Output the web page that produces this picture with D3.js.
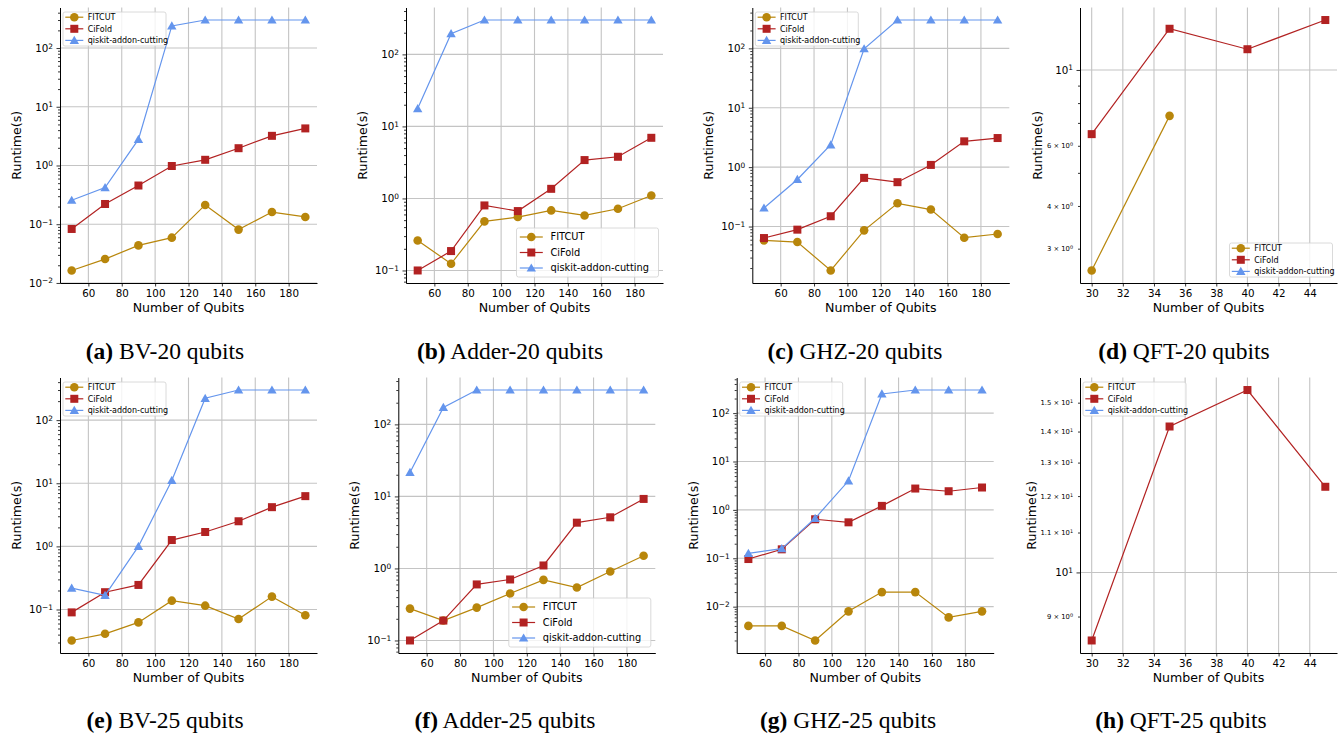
<!DOCTYPE html>
<html>
<head>
<meta charset="utf-8">
<script src="https://cdn.jsdelivr.net/npm/d3@7"></script>
<style>
  body { margin: 0; background: #fff; }
  svg text { font-family: "DejaVu Sans", sans-serif; fill: #000; }
  .caption { font-family: "Liberation Serif", serif; }
</style>
</head>
<body>
<svg id="chart" width="1338" height="735"></svg>
<script>
// x values and tick labels
const qubits = [50, 70, 90, 110, 130, 150, 170, 190];
const qftQubits = [30, 35, 40, 45];
const qubitTicks = [60, 80, 100, 120, 140, 160, 180];
const qftTicks = [30, 32, 34, 36, 38, 40, 42, 44];
const seriesNames = ["FITCUT", "CiFold", "qiskit-addon-cutting"];

// runtimes (s), 20 qubits per device
const bv20Fitcut = [0.0163, 0.0255, 0.0436, 0.059, 0.213, 0.081, 0.161, 0.133];
const bv20Cifold = [0.083, 0.221, 0.456, 0.98, 1.25, 1.97, 3.2, 4.28];
const bv20Qiskit = [0.256, 0.42, 2.78, 238, 300, 300, 300, 300];

const adder20Fitcut = [0.261, 0.124, 0.48, 0.552, 0.682, 0.581, 0.72, 1.10];
const adder20Cifold = [0.1, 0.186, 0.80, 0.668, 1.36, 3.41, 3.79, 6.95];
const adder20Qiskit = [17.7, 194, 300, 300, 300, 300, 300, 300];

const ghz20Fitcut = [0.0585, 0.0548, 0.0182, 0.0862, 0.246, 0.193, 0.0649, 0.0748];
const ghz20Cifold = [0.064, 0.0886, 0.149, 0.66, 0.558, 1.09, 2.72, 3.09];
const ghz20Qiskit = [0.205, 0.62, 2.38, 98.5, 300, 300, 300, 300];

const qft20Fitcut = [2.59, 7.34];
const qft20Cifold = [6.49, 13.2, 11.5, 14.0];
const qft20Qiskit = [];

// runtimes (s), 25 qubits per device
const bv25Fitcut = [0.0323, 0.0412, 0.0625, 0.138, 0.115, 0.0706, 0.16, 0.081];
const bv25Cifold = [0.090, 0.188, 0.245, 1.26, 1.69, 2.5, 4.18, 6.25];
const bv25Qiskit = [0.218, 0.168, 1.0, 11.1, 222, 300, 300, 300];

const adder25Fitcut = [0.277, 0.189, 0.286, 0.449, 0.694, 0.543, 0.908, 1.50];
const adder25Cifold = [0.1, 0.189, 0.60, 0.703, 1.10, 4.32, 5.13, 9.23];
const adder25Qiskit = [21.5, 172, 300, 300, 300, 300, 300, 300];

const ghz25Fitcut = [0.004, 0.004, 0.002, 0.008, 0.02, 0.02, 0.006, 0.008];
const ghz25Cifold = [0.0964, 0.153, 0.64, 0.553, 1.21, 2.76, 2.43, 2.9];
const ghz25Qiskit = [0.126, 0.158, 0.67, 3.99, 249, 300, 300, 300];

const qft25Fitcut = [];
const qft25Cifold = [8.50, 14.17, 15.46, 12.27];
const qft25Qiskit = [];

// labelled minor ticks on the QFT panels
const qft20MinorLabels = [3, 4, 6];
const qft25MinorTicks = [9, 11, 12, 13, 14, 15];

const captions = [
  ["(a)", " BV-20 qubits"], ["(b)", " Adder-20 qubits"], ["(c)", " GHZ-20 qubits"], ["(d)", " QFT-20 qubits"],
  ["(e)", " BV-25 qubits"], ["(f)", " Adder-25 qubits"], ["(g)", " GHZ-25 qubits"], ["(h)", " QFT-25 qubits"]
];

const colors = ["#b8860b", "#b22222", "#6495ed"];
const shapes = ["circle", "square", "triangle"];

const PW = 257, PH = 275.5;
const legendStyles = {
  small: {font: 8, w: 103, h: 34, pad: 5.2, gap: 11.6, l0: 2.3, l1: 20.3, tx: 24.7},
  large: {font: 9.8, w: 142, h: 49, pad: 9, gap: 15.5, l0: 3.3, l1: 26.3, tx: 34}
};

const panels = [
  {x: qubits, series: [bv20Fitcut, bv20Cifold, bv20Qiskit], xTicks: qubitTicks, left: 60, top: 7.5, legend: "ul", lstyle: "small", ylab: -43, cx: 165, cy: 359},
  {x: qubits, series: [adder20Fitcut, adder20Cifold, adder20Qiskit], xTicks: qubitTicks, left: 406, top: 7.5, legend: "lr", lstyle: "large", ylab: -43, cx: 510, cy: 359},
  {x: qubits, series: [ghz20Fitcut, ghz20Cifold, ghz20Qiskit], xTicks: qubitTicks, left: 752.3, top: 7.5, legend: "ul", lstyle: "small", ylab: -44, cx: 855, cy: 359},
  {x: qftQubits, series: [qft20Fitcut, qft20Cifold, qft20Qiskit], xTicks: qftTicks, left: 1080, top: 7.5, legend: "lr", lstyle: "small", ylab: -42, cx: 1184, cy: 359, minorLabels: qft20MinorLabels},
  {x: qubits, series: [bv25Fitcut, bv25Cifold, bv25Qiskit], xTicks: qubitTicks, left: 60, top: 377.5, legend: "ul", lstyle: "small", ylab: -43, cx: 165, cy: 728},
  {x: qubits, series: [adder25Fitcut, adder25Cifold, adder25Qiskit], xTicks: qubitTicks, left: 398.3, top: 377.5, legend: "lr", lstyle: "large", ylab: -44, cx: 505, cy: 728},
  {x: qubits, series: [ghz25Fitcut, ghz25Cifold, ghz25Qiskit], xTicks: qubitTicks, left: 736.7, top: 377.5, legend: "ul", lstyle: "small", ylab: -43.4, cx: 848, cy: 728},
  {x: qftQubits, series: [qft25Fitcut, qft25Cifold, qft25Qiskit], xTicks: qftTicks, left: 1080, top: 377.5, legend: "ul", lstyle: "small", ylab: -48, cx: 1181, cy: 728, minorTicks: qft25MinorTicks, minorLabels: qft25MinorTicks}
];

const svg = d3.select("#chart");

function expText(e) { return e < 0 ? "\u2212" + Math.abs(e) : String(e); }

function supLabel(sel, base, e) {
  sel.text(null);
  sel.append("tspan").text(base);
  sel.append("tspan").attr("dy", "-0.45em").attr("font-size", "72%").text(expText(e));
}

function marker(g, shape, cx, cy, color) {
  if (shape === "circle") {
    g.append("circle").attr("cx", cx).attr("cy", cy).attr("r", 4.3).attr("fill", color);
  } else if (shape === "square") {
    g.append("rect").attr("x", cx - 4).attr("y", cy - 4).attr("width", 8).attr("height", 8).attr("fill", color);
  } else {
    g.append("path").attr("d", `M${cx},${cy - 4.6}L${cx - 4.7},${cy + 3.6}L${cx + 4.7},${cy + 3.6}Z`).attr("fill", color);
  }
}

panels.forEach((p, pi) => {
  const g = svg.append("g");
  const bottom = p.top + PH, right = p.left + PW;

  const xe = d3.extent(p.x), xpad = 0.05 * (xe[1] - xe[0]);
  const x = d3.scaleLinear().domain([xe[0] - xpad, xe[1] + xpad]).range([p.left, right]);

  const all = p.series.flat();
  const lmin = Math.log10(d3.min(all)), lmax = Math.log10(d3.max(all));
  const lpad = 0.05 * (lmax - lmin);
  const y = d3.scaleLog().domain([10 ** (lmin - lpad), 10 ** (lmax + lpad)]).range([bottom, p.top]);
  const [d0, d1] = y.domain();

  const majors = d3.range(Math.ceil(Math.log10(d0)), Math.floor(Math.log10(d1)) + 1).map(e => 10 ** e);
  let minors = p.minorTicks;
  if (!minors) {
    minors = [];
    for (let e = Math.floor(Math.log10(d0)); e <= Math.ceil(Math.log10(d1)); e++) {
      for (let k = 2; k <= 9; k++) {
        const v = k * 10 ** e;
        if (v >= d0 && v <= d1) minors.push(v);
      }
    }
  }

  // grid
  g.append("g").selectAll("line").data(p.xTicks).join("line")
    .attr("x1", d => x(d)).attr("x2", d => x(d)).attr("y1", p.top).attr("y2", bottom)
    .attr("stroke", "#c4c4c4").attr("stroke-width", 1.1);
  g.append("g").selectAll("line").data(majors).join("line")
    .attr("x1", p.left).attr("x2", right).attr("y1", d => y(d)).attr("y2", d => y(d))
    .attr("stroke", "#c4c4c4").attr("stroke-width", 1.1);

  // series
  const line = d3.line().x(d => x(d[0])).y(d => y(d[1]));
  p.series.forEach((vals, si) => {
    const pts = vals.map((v, i) => [p.x[i], v]);
    if (!pts.length) return;
    g.append("path").datum(pts).attr("d", line)
      .attr("fill", "none").attr("stroke", colors[si]).attr("stroke-width", 1.2);
    const mg = g.append("g");
    pts.forEach(d => marker(mg, shapes[si], x(d[0]), y(d[1]), colors[si]));
  });

  // x axis
  const xa = g.append("g").attr("transform", `translate(0,${bottom})`)
    .call(d3.axisBottom(x).tickValues(p.xTicks).tickSizeInner(3.5).tickSizeOuter(0).tickPadding(3.5));
  xa.selectAll("text").attr("font-size", 10.3);

  // y axis minor ticks
  const minorSet = new Set((p.minorLabels || []).map(v => +v.toFixed(3)));
  const ym = g.append("g").attr("transform", `translate(${p.left},0)`)
    .call(d3.axisLeft(y).tickValues(minors).tickSizeInner(2).tickSizeOuter(0).tickPadding(5).tickFormat(""));
  ym.select(".domain").remove();
  ym.selectAll(".tick text").each(function(d) {
    const t = d3.select(this);
    if (!minorSet.has(+d.toFixed(3))) { t.remove(); return; }
    const e = Math.floor(Math.log10(d) + 1e-9);
    const m = +(d / 10 ** e).toFixed(2);
    t.attr("font-size", 6.8);
    supLabel(t, `${m} \u00d7 10`, e);
  });

  // y axis majors
  const ya = g.append("g").attr("transform", `translate(${p.left},0)`)
    .call(d3.axisLeft(y).tickValues(majors).tickSizeInner(3.5).tickSizeOuter(0).tickPadding(3.5));
  ya.selectAll(".tick text").attr("font-size", 10.3).each(function(d) {
    supLabel(d3.select(this), "10", Math.round(Math.log10(d)));
  });

  [xa, ya, ym].forEach(a => {
    a.selectAll(".tick line").attr("stroke", "#000").attr("stroke-width", 0.8);
    a.select(".domain").attr("stroke", "#000").attr("stroke-width", 1);
  });

  // axis labels
  g.append("text").attr("x", (p.left + right) / 2).attr("y", bottom + 29)
    .attr("text-anchor", "middle").attr("font-size", 12.6).text("Number of Qubits");
  g.append("text")
    .attr("transform", `translate(${p.left + p.ylab},${(p.top + bottom) / 2}) rotate(-90)`)
    .attr("text-anchor", "middle").attr("dy", "0.35em").attr("font-size", 12.6).text("Runtime(s)");

  // legend
  const ls = legendStyles[p.lstyle];
  const lx = p.legend === "ul" ? p.left + 3 : right - 4.5 - ls.w;
  const ly = p.legend === "ul" ? p.top + 4.5 : bottom - 6 - ls.h;
  const lg = g.append("g").attr("transform", `translate(${lx},${ly})`);
  lg.append("rect").attr("width", ls.w).attr("height", ls.h).attr("rx", 2)
    .attr("fill", "#fff").attr("fill-opacity", 0.8).attr("stroke", "#d0d0d0").attr("stroke-width", 0.8);
  seriesNames.forEach((name, si) => {
    const cy = ls.pad + si * ls.gap;
    lg.append("line").attr("x1", ls.l0).attr("x2", ls.l1).attr("y1", cy).attr("y2", cy)
      .attr("stroke", colors[si]).attr("stroke-width", 1.2);
    marker(lg, shapes[si], (ls.l0 + ls.l1) / 2, cy, colors[si]);
    lg.append("text").attr("x", ls.tx).attr("y", cy).attr("dy", "0.35em")
      .attr("font-size", ls.font).text(name);
  });

  // caption
  const cap = svg.append("text").attr("class", "caption").attr("x", p.cx).attr("y", p.cy)
    .attr("text-anchor", "middle").attr("font-size", 23.5);
  cap.append("tspan").attr("font-weight", "bold").text(captions[pi][0]);
  cap.append("tspan").text(captions[pi][1]);
});
</script>
</body>
</html>
